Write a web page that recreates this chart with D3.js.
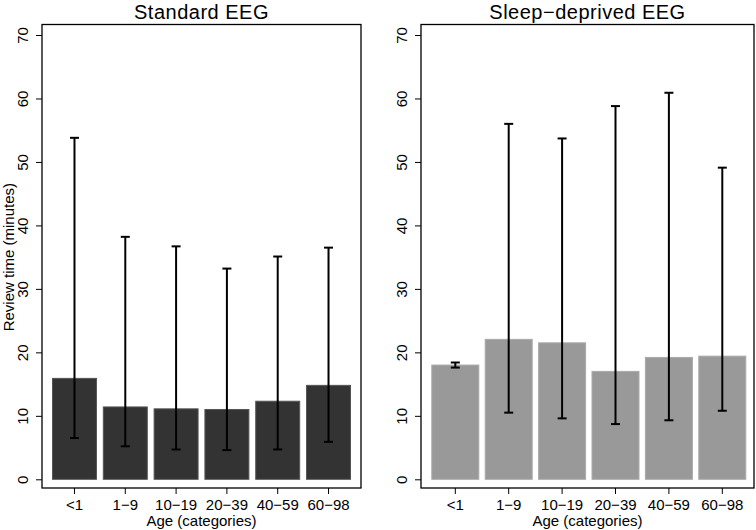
<!DOCTYPE html>
<html>
<head>
<meta charset="utf-8">
<script src="https://cdn.jsdelivr.net/npm/d3@7"></script>
<style>
  html, body { margin: 0; padding: 0; background: #fff; }
  svg { display: block; font-family: "Liberation Sans", Arial, Helvetica, sans-serif; }
</style>
</head>
<body>
<svg id="chart" width="756" height="530"></svg>
<script>
const categories = ["<1", "1\u22129", "10\u221219", "20\u221239", "40\u221259", "60\u221298"];
const yTicks = [0, 10, 20, 30, 40, 50, 60, 70];

const standardMean = [15.9, 11.4, 11.1, 11.0, 12.3, 14.8];
const standardLow  = [6.5, 5.2, 4.7, 4.6, 4.7, 5.9];
const standardHigh = [53.8, 38.2, 36.7, 33.2, 35.1, 36.5];

const sleepMean = [18.0, 22.05, 21.5, 17.0, 19.2, 19.4];
const sleepLow  = [17.6, 10.5, 9.6, 8.7, 9.3, 10.8];
const sleepHigh = [18.4, 56.0, 53.7, 58.8, 60.9, 49.1];

const panels = [
  { title: "Standard EEG", mean: standardMean, low: standardLow, high: standardHigh,
    box: [42, 361], bars: [52, 351], pad: 0.115, fill: "#333333", stroke: "#555555" },
  { title: "Sleep\u2212deprived EEG", mean: sleepMean, low: sleepLow, high: sleepHigh,
    box: [421, 754], bars: [431.3, 746.3], pad: 0.101, fill: "#999999", stroke: "#aaaaaa" }
];

const svg = d3.select("#chart");
const boxTop = 24.5, boxBottom = 488;
const y = d3.scaleLinear().domain([0, 70]).range([479.3, 35]);

panels.forEach(p => {
  const g = svg.append("g");
  const x = d3.scaleBand().domain(categories).range(p.bars).paddingInner(p.pad).paddingOuter(0);

  // bars
  g.selectAll("rect.bar").data(categories).join("rect")
    .attr("class", "bar")
    .attr("x", d => x(d) + 0.5)
    .attr("width", x.bandwidth() - 1)
    .attr("y", (d, i) => y(p.mean[i]))
    .attr("height", (d, i) => y(0) - y(p.mean[i]))
    .attr("fill", p.fill)
    .attr("stroke", p.stroke)
    .attr("stroke-width", 1);

  // error bars
  const eb = g.selectAll("g.err").data(categories).join("g").attr("class", "err")
    .attr("transform", d => `translate(${x(d) + x.bandwidth() / 2},0)`);
  eb.append("line")
    .attr("y1", (d, i) => y(p.low[i])).attr("y2", (d, i) => y(p.high[i]))
    .attr("stroke", "#000").attr("stroke-width", 2);
  eb.append("line")
    .attr("x1", -4.5).attr("x2", 4.5)
    .attr("y1", (d, i) => y(p.high[i])).attr("y2", (d, i) => y(p.high[i]))
    .attr("stroke", "#000").attr("stroke-width", 2);
  eb.append("line")
    .attr("x1", -4.5).attr("x2", 4.5)
    .attr("y1", (d, i) => y(p.low[i])).attr("y2", (d, i) => y(p.low[i]))
    .attr("stroke", "#000").attr("stroke-width", 2);

  // box
  g.append("rect")
    .attr("x", p.box[0]).attr("y", boxTop)
    .attr("width", p.box[1] - p.box[0]).attr("height", boxBottom - boxTop)
    .attr("fill", "none").attr("stroke", "#000").attr("stroke-width", 1.3);

  // y axis
  const ya = g.append("g").attr("transform", `translate(${p.box[0]},0)`)
    .call(d3.axisLeft(y).tickValues(yTicks).tickSize(6).tickSizeOuter(0));
  ya.select(".domain").remove();
  ya.selectAll(".tick line").attr("stroke", "#000").attr("stroke-width", 1);
  ya.selectAll(".tick text")
    .attr("transform", "rotate(-90)")
    .attr("x", 0).attr("y", -14).attr("dy", 0)
    .attr("text-anchor", "middle")
    .attr("font-size", 15)
    .attr("font-family", "Liberation Sans, Arial, sans-serif")
    .attr("fill", "#000");

  // x axis
  const xa = g.append("g").attr("transform", `translate(0,${boxBottom})`)
    .call(d3.axisBottom(x).tickSize(6).tickPadding(5).tickSizeOuter(0));
  xa.select(".domain").remove();
  xa.selectAll(".tick line").attr("stroke", "#000").attr("stroke-width", 1);
  xa.selectAll(".tick text")
    .attr("font-size", 15)
    .attr("font-family", "Liberation Sans, Arial, sans-serif")
    .attr("fill", "#000");

  const cx = (p.box[0] + p.box[1]) / 2;
  g.append("text").attr("x", cx).attr("y", 526)
    .attr("text-anchor", "middle").attr("font-size", 15).text("Age (categories)");
  g.append("text").attr("x", cx).attr("y", 18.5)
    .attr("text-anchor", "middle").attr("font-size", 20)
    .attr("letter-spacing", 0.5).text(p.title);
});

svg.append("text")
  .attr("transform", `translate(13.5,${(y(0) + y(70)) / 2}) rotate(-90)`)
  .attr("text-anchor", "middle").attr("font-size", 15)
  .text("Review time (minutes)");
</script>
</body>
</html>
